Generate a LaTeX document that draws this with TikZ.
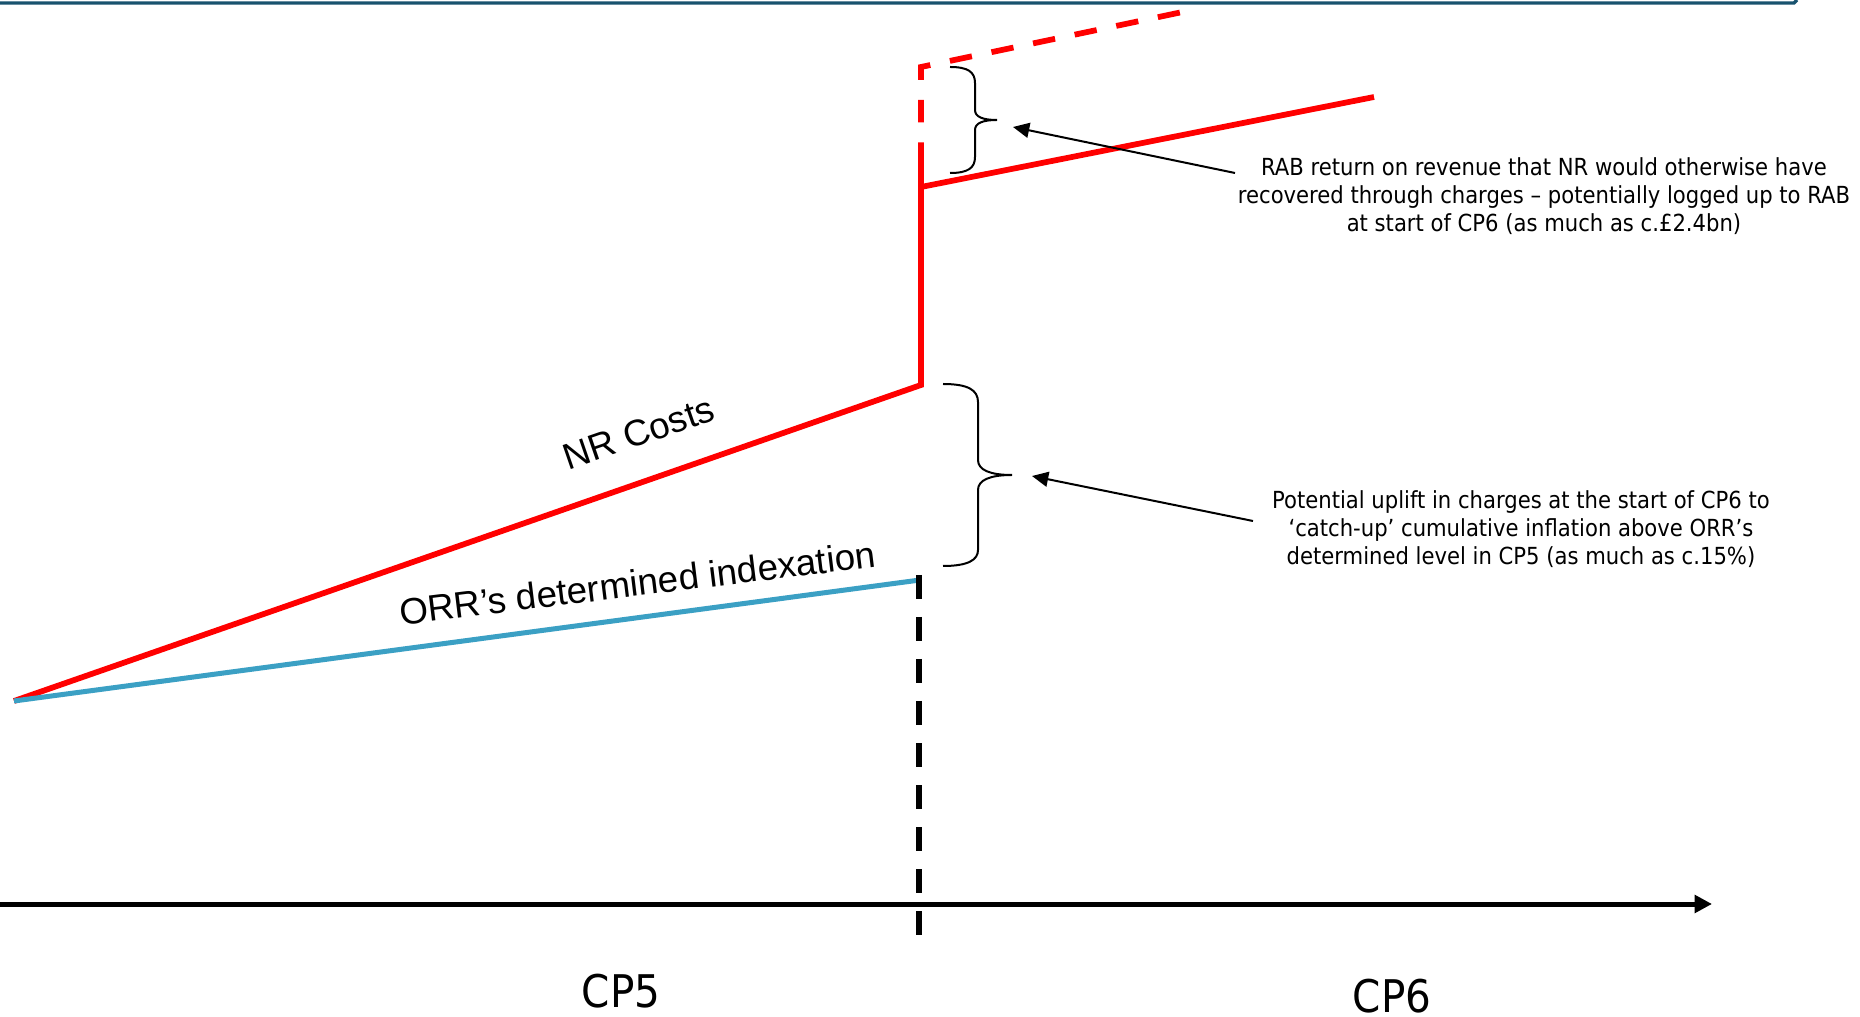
\documentclass[tikz,border=0pt]{standalone}
\usepackage{fontspec}
\setmainfont{DejaVu Sans Condensed}
\newfontfamily\arialfont{Liberation Sans}
\usepackage{tikz}
\usetikzlibrary{arrows.meta}
\usetikzlibrary{calc}
\usetikzlibrary{positioning}
\definecolor{costred}{RGB}{255,0,0}
\definecolor{indexblue}{RGB}{59,160,196}
\definecolor{frameteal}{RGB}{24,82,110}

\begin{document}
\begin{tikzpicture}[x=0.4pt,y=-0.4pt,
    redline/.style={draw=costred, line width=2.3pt},
    bluline/.style={draw=indexblue, line width=2pt},
    cutline/.style={draw=black, line width=2.3pt, dash pattern=on 9.6pt off 7.2pt},
    bracebox/.style={draw=black, line width=0.8pt},
    pointer/.style={draw=black, line width=0.8pt, -{Triangle[length=6.5pt,width=6pt]}},
    notetext/.style={align=center, font=\fontsize{9.4}{11.3}\selectfont},
    linelabel/.style={anchor=base, font=\arialfont\fontsize{14.7}{16}\selectfont},
    period/.style={anchor=base, font=\fontsize{18}{20}\selectfont}]
    \useasboundingbox (0,0) rectangle (1860,1017);
    % frame edge at the top
    \draw[frameteal, line width=1.3pt] (0,3) -- (1794,3) -- (1797,0);
    % points
    \coordinate (O) at (14,701);
    \coordinate (C5) at (921,385);
    \coordinate (J) at (921,187);
    \coordinate (S) at (921,165);
    \coordinate (K) at (921,67);
    \coordinate (D) at (1192,10);
    \coordinate (C6) at (1374,97);
    \coordinate (I5) at (920,580);
    \coordinate (V1) at (919,575);
    \coordinate (V2) at (919,935);
    \coordinate (X0) at (0,904);
    \coordinate (X1) at (1712,904);
    % lines
    \path [redline] (O) -- (C5) -- (S);
    \path [redline] (J) -- (C6);
    \path [redline, dash pattern=on 9pt off 8pt] (S) -- (K) -- (D);
    \path [bluline] (O) -- (I5);
    \path [cutline] (V1) -- (V2);
    \path [draw=black, line width=2pt, -{Triangle[length=7pt,width=7pt]}] (X0) -- (X1);
    % braces
    \path [bracebox] (950,67) .. controls (968,67) and (975,72) .. (975,83) -- (975,110)
        .. controls (975,117) and (983,120) .. (997,120)
        .. controls (983,120) and (975,123) .. (975,130) -- (975,157)
        .. controls (975,168) and (968,173) .. (950,173);
    \path [bracebox] (943,384) .. controls (968,384) and (978,390) .. (978,402) -- (978,460)
        .. controls (978,470) and (990,475) .. (1012,475)
        .. controls (990,475) and (978,480) .. (978,490) -- (978,550)
        .. controls (978,560) and (968,566) .. (943,566);
    % notes
    \node[notetext] (N1) at (1544,196) {RAB return on revenue that NR would otherwise have\\recovered through charges -- potentially logged up to RAB\\at start of CP6 (as much as c.\textsterling2.4bn)};
    \node[notetext] (N2) at (1521,529) {Potential uplift in charges at the start of CP6 to\\‘catch-up’ cumulative inflation above ORR’s\\determined level in CP5 (as much as c.15\%)};
    \coordinate (T1) at (1235,173);
    \coordinate (H1) at (1013,127);
    \coordinate (T2) at (1253,521);
    \coordinate (H2) at (1032,476);
    \draw [pointer] (T1) -- (H1);
    \draw [pointer] (T2) -- (H2);
    % labels
    \node[linelabel, rotate=19] (L1) at (643,445) {NR Costs};
    \node[linelabel, rotate=7] (L2) at (639,596) {ORR’s determined indexation};
    \node[period] (P5) at (621,1007) {CP5};
    \node[period] (P6) at (1392,1012) {CP6};
\end{tikzpicture}
\end{document}
